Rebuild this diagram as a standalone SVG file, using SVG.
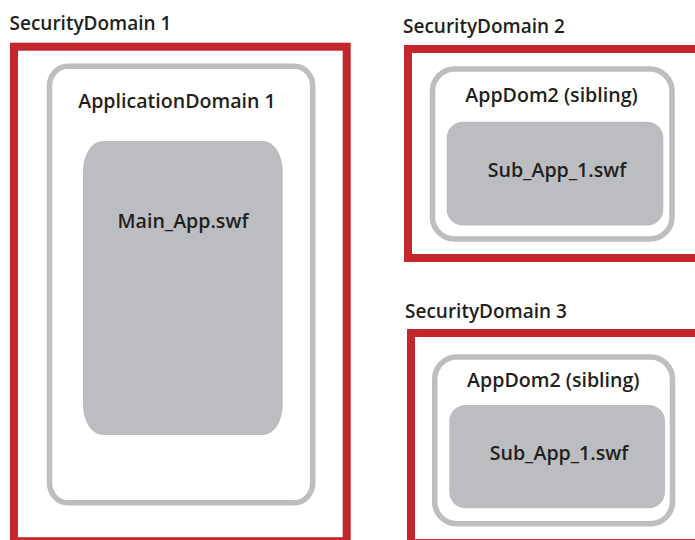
<svg xmlns="http://www.w3.org/2000/svg" width="695" height="540" viewBox="0 0 695 540">
  <style>
    .sec { fill: none; stroke: #c4262e; stroke-width: 8; }
    .app { fill: #ffffff; stroke: #bcbec0; stroke-width: 5.5; }
    .swf { fill: #bcbdc0; }
    text { font-family: "Open Sans", "Liberation Sans", sans-serif; font-weight: 600; fill: #231f20; font-size: 19px; }
    .c { text-anchor: middle; font-size: 19.6px; }
  </style>
  <rect width="695" height="540" fill="#ffffff"/>

  <!-- Security domain 1 -->
  <g id="security-domain-1">
    <text x="9.5" y="30">SecurityDomain 1</text>
    <rect class="sec" x="14" y="46.7" width="332.7" height="494.5"/>
  </g>
  <g id="application-domain-1">
    <rect class="app" x="49.5" y="66.3" width="263.2" height="436.4" rx="18" ry="20"/>
    <text class="c" x="177" y="108">ApplicationDomain 1</text>
  </g>
  <g id="main-app">
    <rect class="swf" x="83" y="141" width="199.7" height="294" rx="20" ry="30"/>
    <text class="c" x="183" y="228">Main_App.swf</text>
  </g>

  <!-- Security domain 2 -->
  <g id="security-domain-2">
    <text x="403" y="33.3">SecurityDomain 2</text>
    <rect class="sec" x="408" y="49" width="291" height="209"/>
  </g>
  <g id="app-domain-2a">
    <rect class="app" x="432.5" y="69" width="239.5" height="170" rx="22"/>
    <text class="c" x="551.5" y="102">AppDom2 (sibling)</text>
  </g>
  <g id="sub-app-a">
    <rect class="swf" x="446.7" y="121.7" width="216.6" height="103.8" rx="16"/>
    <text class="c" x="557" y="176.7">Sub_App_1.swf</text>
  </g>

  <!-- Security domain 3 -->
  <g id="security-domain-3">
    <text x="405" y="318.3">SecurityDomain 3</text>
    <rect class="sec" x="411" y="333" width="292" height="210"/>
  </g>
  <g id="app-domain-2b">
    <rect class="app" x="434.7" y="357" width="237.8" height="166.7" rx="22"/>
    <text class="c" x="553.3" y="386.5">AppDom2 (sibling)</text>
  </g>
  <g id="sub-app-b">
    <rect class="swf" x="449.3" y="405" width="215.7" height="103.3" rx="16"/>
    <text class="c" x="559" y="460">Sub_App_1.swf</text>
  </g>

  <g id="connectors"/>
</svg>
